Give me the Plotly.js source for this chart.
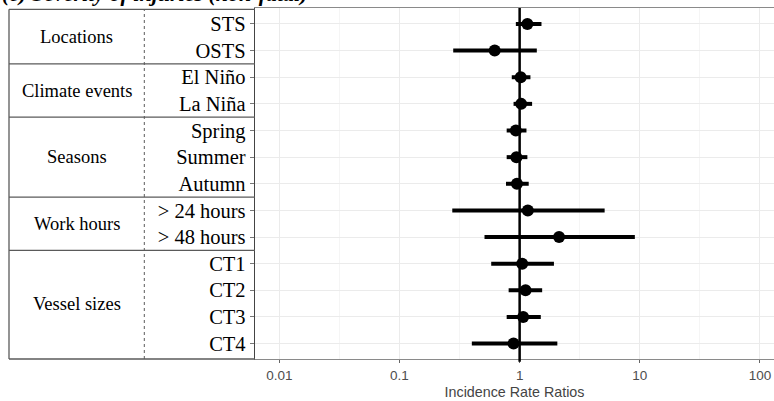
<!DOCTYPE html>
<html>
<head>
<meta charset="utf-8">
<script src="https://cdn.plot.ly/plotly-3.0.1.min.js"></script>
<style>html,body{margin:0;padding:0;background:#fff;}#chart{width:774px;height:401px;}</style>
</head>
<body>
<div id="chart"></div>
<script>
// ---- data ----
var rowLabels = ["STS", "OSTS", "El Niño", "La Niña", "Spring", "Summer", "Autumn",
                 "> 24 hours", "> 48 hours", "CT1", "CT2", "CT3", "CT4"];
var irr   = [1.16, 0.62, 1.02, 1.03, 0.93, 0.94, 0.95, 1.17, 2.13, 1.05, 1.12, 1.07, 0.89];
var lower = [0.93, 0.28, 0.86, 0.89, 0.78, 0.78, 0.77, 0.275, 0.51, 0.58, 0.81, 0.78, 0.40];
var upper = [1.52, 1.39, 1.23, 1.27, 1.14, 1.16, 1.19, 5.1, 9.1, 1.93, 1.54, 1.50, 2.06];
var groupNames = ["Locations", "Climate events", "Seasons", "Work hours", "Vessel sizes"];
var groupSizes = [2, 2, 3, 2, 4];
var xTickVals = [0.01, 0.1, 1, 10, 100];
var xTickText = ["0.01", "0.1", "1", "10", "100"];
var titleText = "(c) Severity of injuries (non-fatal)";

// ---- layout geometry ----
var W = 774, H = 401;
var mL = 255, mR = 0, mT = 8, mB = 42;
var plotW = W - mL - mR, plotH = H - mT - mB;
function px2paperX(px) { return (px - mL) / plotW; }
function px2paperY(py) { return (H - mB - py) / plotH; }

var rows = rowLabels.map(function (_, i) { return i + 1; });
var errPlus = irr.map(function (v, i) { return upper[i] - v; });
var errMinus = irr.map(function (v, i) { return v - lower[i]; });

var trace = {
  type: "scatter", mode: "markers",
  x: irr, y: rows,
  marker: { color: "#000", size: 12 },
  error_x: { type: "data", symmetric: false, array: errPlus, arrayminus: errMinus,
             color: "#000", thickness: 4, width: 0 },
  hoverinfo: "skip", showlegend: false
};

var tableLeft = px2paperX(9);
var tableTop = px2paperY(9.3);
var dashX = px2paperX(144.3);
var lineCol = "#5a5a5a";

var shapes = [];
// zero line
shapes.push({ type: "line", xref: "x", yref: "paper", x0: 1, x1: 1, y0: -0.008, y1: 1,
              line: { color: "#000", width: 2.5 }, layer: "above" });
// table outline
shapes.push({ type: "line", xref: "paper", yref: "paper", x0: tableLeft, x1: 0, y0: tableTop, y1: tableTop, line: { color: lineCol, width: 1.3 } });
shapes.push({ type: "line", xref: "paper", yref: "paper", x0: tableLeft, x1: 0, y0: 0, y1: 0, line: { color: lineCol, width: 1.3 } });
shapes.push({ type: "line", xref: "paper", yref: "paper", x0: tableLeft, x1: tableLeft, y0: 0, y1: tableTop, line: { color: lineCol, width: 1.3 } });
shapes.push({ type: "line", xref: "paper", yref: "paper", x0: dashX, x1: dashX, y0: 0, y1: tableTop, line: { color: lineCol, width: 1, dash: "dot" } });

var annotations = [];
var start = 0;
groupSizes.forEach(function (n, g) {
  var first = start + 1, last = start + n;
  annotations.push({
    xref: "paper", yref: "y", x: px2paperX(76.5), y: (first + last) / 2,
    text: groupNames[g], showarrow: false, xanchor: "center", yanchor: "middle",
    font: { family: "Liberation Serif, Times New Roman, serif", size: 18.5, color: "#000" }
  });
  if (g < groupSizes.length - 1) {
    shapes.push({ type: "line", xref: "paper", yref: "y", x0: tableLeft, x1: 0,
                  y0: last + 0.5, y1: last + 0.5, line: { color: lineCol, width: 1.3 } });
  }
  start += n;
});

// title, clipped by the top edge as in the reference
annotations.push({
  xref: "paper", yref: "paper", x: px2paperX(0), y: px2paperY(8),
  text: titleText, showarrow: false, xanchor: "left", yanchor: "bottom",
  font: { family: "Liberation Serif, Times New Roman, serif", size: 22, color: "#000", weight: "bold", style: "italic" }
});

var minorVals = [];
[-3, -2, -1, 0, 1, 2].forEach(function (k) { minorVals.push(Math.pow(10, k + 0.5)); });

var layout = {
  width: W, height: H,
  margin: { l: mL, r: mR, t: mT, b: mB, pad: 0 },
  paper_bgcolor: "#fff", plot_bgcolor: "#fff",
  showlegend: false,
  xaxis: {
    type: "log", range: [Math.log10(0.00627), Math.log10(131)],
    tickvals: xTickVals, ticktext: xTickText,
    tickfont: { family: "Liberation Sans, Arial, sans-serif", size: 13.5, color: "#4d4d4d" },
    ticks: "outside", ticklen: 3, tickcolor: "#666", tickwidth: 1,
    showgrid: true, gridcolor: "#ebebeb", gridwidth: 1,
    minor: { tickvals: minorVals, showgrid: true, gridcolor: "#f2f2f2", gridwidth: 0.8, ticks: "" },
    showline: true, linecolor: "#8a8a8a", linewidth: 1.3, mirror: true,
    zeroline: false,
    title: { text: "Incidence Rate Ratios", standoff: 5,
             font: { family: "Liberation Sans, Arial, sans-serif", size: 14.3, color: "#444" } }
  },
  yaxis: {
    range: [13.58, 0.4],
    tickvals: rows, ticktext: rowLabels,
    tickfont: { family: "Liberation Serif, Times New Roman, serif", size: 20.5, color: "#000" },
    ticks: "outside", ticklen: 4, tickcolor: "#777", tickwidth: 1,
    showgrid: true, gridcolor: "#ebebeb", gridwidth: 1,
    showline: true, linecolor: "#444", linewidth: 1.3, mirror: false,
    zeroline: false
  },
  shapes: shapes,
  annotations: annotations
};

Plotly.newPlot("chart", [trace], layout, { displayModeBar: false, staticPlot: true });
</script>
</body>
</html>
